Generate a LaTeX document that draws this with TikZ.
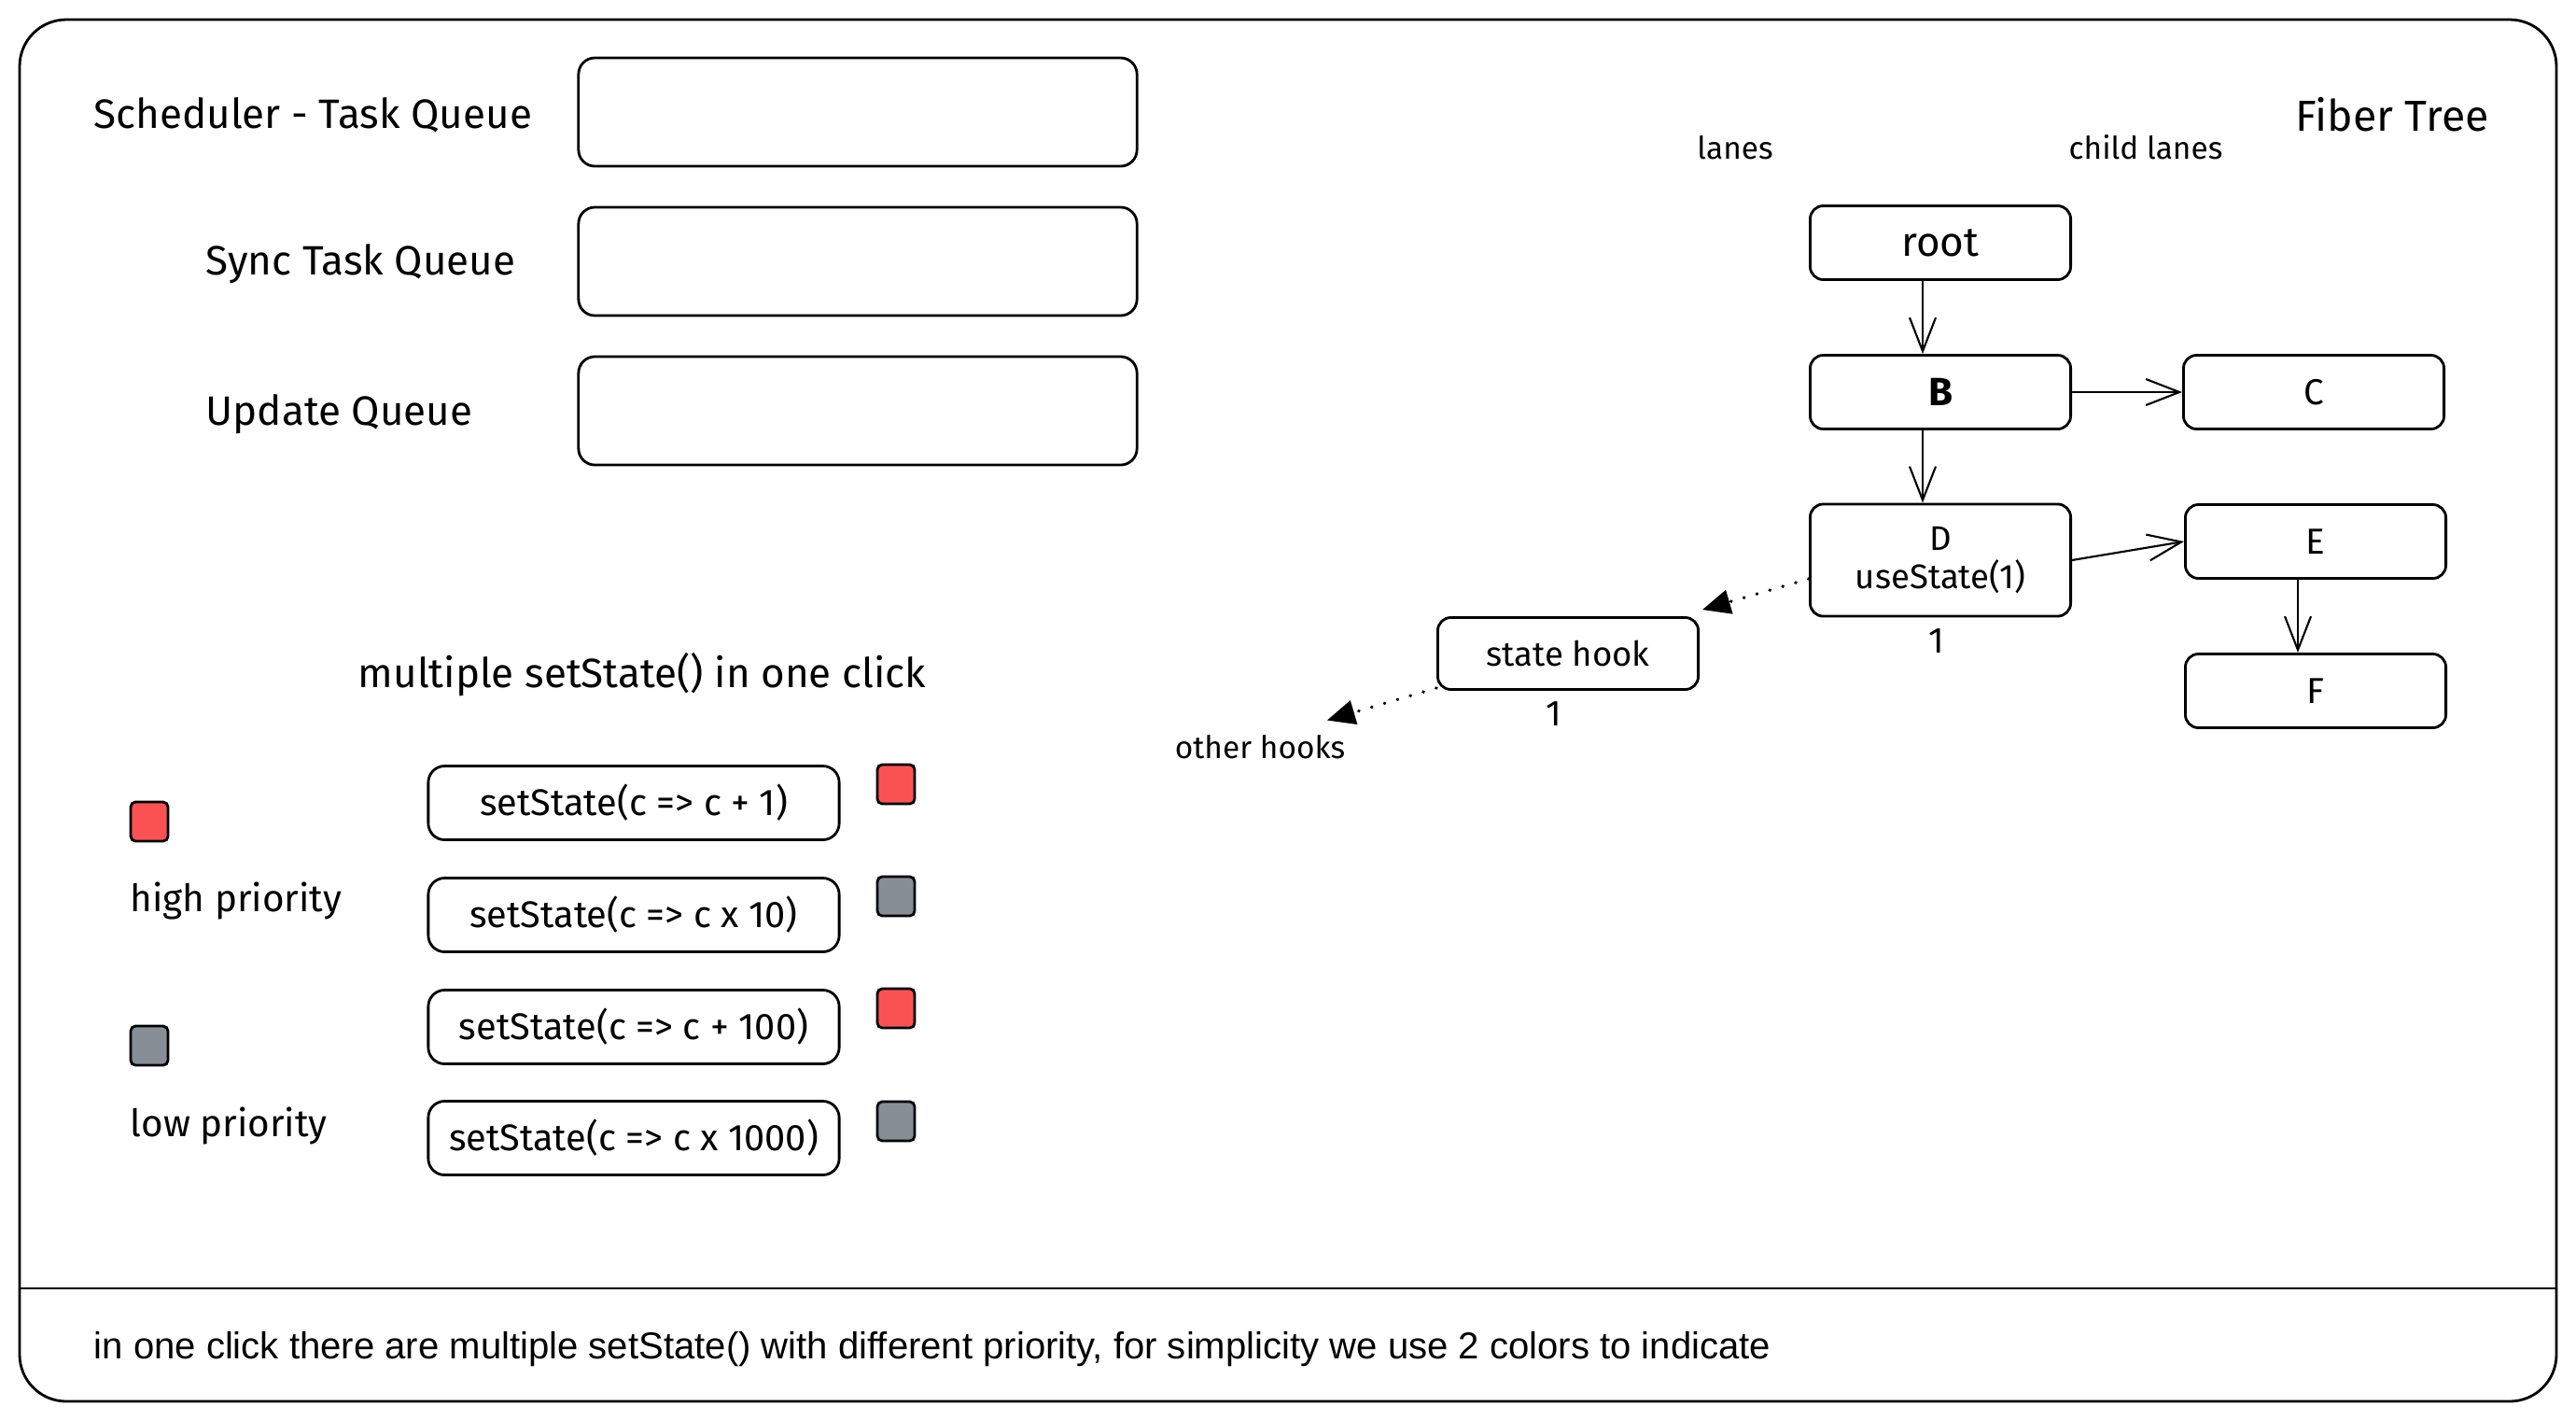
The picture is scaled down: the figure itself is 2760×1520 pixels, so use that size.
\documentclass[tikz,border=0pt]{standalone}
\usepackage{fontspec}
\setmainfont{Liberation Sans}
\newfontfamily\hand{Fira Sans}
\usetikzlibrary{arrows.meta}
\definecolor{hired}{HTML}{FA5252}
\definecolor{logrey}{HTML}{868E96}
\tikzset{
  ln/.style={line width=0.8pt, draw=black},
  qbox/.style={ln, rounded corners=5pt, minimum width=5.98cm, minimum height=1.16cm, inner sep=0pt},
  fbox/.style={ln, rounded corners=4pt, minimum width=2.79cm, minimum height=0.79cm, inner sep=0pt, font=\hand\fontsize{11}{13}\selectfont, align=center},
  sbox/.style={ln, rounded corners=5pt, minimum width=4.4cm, minimum height=0.79cm, inner sep=0pt, font=\hand\fontsize{11.3}{13}\selectfont},
  sq/.style={ln, rounded corners=1.5pt, minimum width=0.4cm, minimum height=0.42cm, inner sep=0pt},
  lbl/.style={font=\hand\fontsize{12.5}{14}\selectfont, inner sep=0pt, anchor=west},
  small/.style={font=\hand\fontsize{9.5}{11}\selectfont, inner sep=0pt},
  arr/.style={ln, line width=0.6pt, -{Straight Barb[length=0.36cm,width=0.28cm]}},
  dotarr/.style={line width=1pt, dash pattern=on 0.1pt off 4pt, line cap=round, -{Triangle[length=0.3cm,width=0.26cm]}}
}
\begin{document}
\begin{tikzpicture}[x=0.01cm,y=-0.01cm]
\useasboundingbox (0,0) rectangle (2760,1520);
% outer frame
\draw[ln, rounded corners=0.5cm] (21,21) rectangle (2739,1501);
\draw[ln] (21,1380) -- (2739,1380);
\node[font=\fontsize{11.4}{13}\selectfont, anchor=west, inner sep=0pt] (foot) at (100,1445) {in one click there are multiple setState() with different priority, for simplicity we use 2 colors to indicate};

% queues
\node[qbox] (q1) at (919,120) {};
\node[qbox] (q2) at (919,280) {};
\node[qbox] (q3) at (919,440) {};
\node[lbl] (l1) at (100,123) {Scheduler - Task Queue};
\node[lbl] (l2) at (220,283) {Sync Task Queue};
\node[lbl] (l3) at (220,444) {Update Queue};

% fiber tree
\node[font=\hand\fontsize{13.2}{15}\selectfont, inner sep=0pt] (ft) at (2563,123) {Fiber Tree};
\node[small] (lanes) at (1859,158) {lanes};
\node[small] (clanes) at (2299,158) {child lanes};
\node[fbox, font=\hand\fontsize{12.5}{14}\selectfont] (root) at (2079,260) {root};
\node[fbox, font=\hand\bfseries\fontsize{12}{14}\selectfont] (B) at (2079,420) {B};
\node[fbox] (C) at (2479,420) {C};
\node[fbox, minimum height=1.2cm, font=\hand\fontsize{10.4}{12.5}\selectfont] (D) at (2079,600) {D\\[-1pt]useState(1)};
\node[fbox] (E) at (2481,580) {E};
\node[fbox] (F) at (2481,740) {F};
\node[fbox, minimum height=0.77cm, font=\hand\fontsize{10.4}{12}\selectfont] (hook) at (1680,700) {state hook};
\node[small, font=\hand\fontsize{11}{13}\selectfont] (one1) at (2075,687) {1};
\node[small, font=\hand\fontsize{11}{13}\selectfont] (one2) at (1665,765) {1};
\node[small] (other) at (1350,800) {other hooks};

\draw[arr] ([xshift=-0.19cm]root.south) -- ([xshift=-0.19cm]B.north);
\draw[arr] ([xshift=-0.19cm]B.south) -- ([xshift=-0.19cm]D.north);
\draw[arr] (B.east) -- (C.west);
\draw[arr] (D.east) -- (E.west);
\draw[arr] ([xshift=-0.19cm]E.south) -- ([xshift=-0.19cm]F.north);
\draw[dotarr] ([yshift=-0.2cm]D.west) -- ([xshift=0.03cm,yshift=0.07cm]hook.north east);
\draw[dotarr] ([yshift=0.03cm]hook.south west) -- ([xshift=-0.2cm,yshift=0.15cm]other.north east);

% setState
\node[font=\hand\fontsize{12.5}{14}\selectfont, inner sep=0pt] (multi) at (688,723) {multiple setState() in one click};
\node[sbox] (s1) at (679,860) {setState(c => c + 1)};
\node[sbox] (s2) at (679,980) {setState(c => c x 10)};
\node[sbox] (s3) at (679,1100) {setState(c => c + 100)};
\node[sbox] (s4) at (679,1219) {setState(c => c x 1000)};
\node[sq, fill=hired] (r1) at (960,840) {};
\node[sq, fill=logrey] (g1) at (960,960) {};
\node[sq, fill=hired] (r2) at (960,1080) {};
\node[sq, fill=logrey] (g2) at (960,1201) {};
\node[sq, fill=hired] (hr) at (160,880) {};
\node[sq, fill=logrey] (lg) at (160,1120) {};
\node[lbl, font=\hand\fontsize{11.5}{13}\selectfont] (hp) at (139,965) {high priority};
\node[lbl, font=\hand\fontsize{11.5}{13}\selectfont] (lp) at (139,1206) {low priority};
\end{tikzpicture}
\end{document}
